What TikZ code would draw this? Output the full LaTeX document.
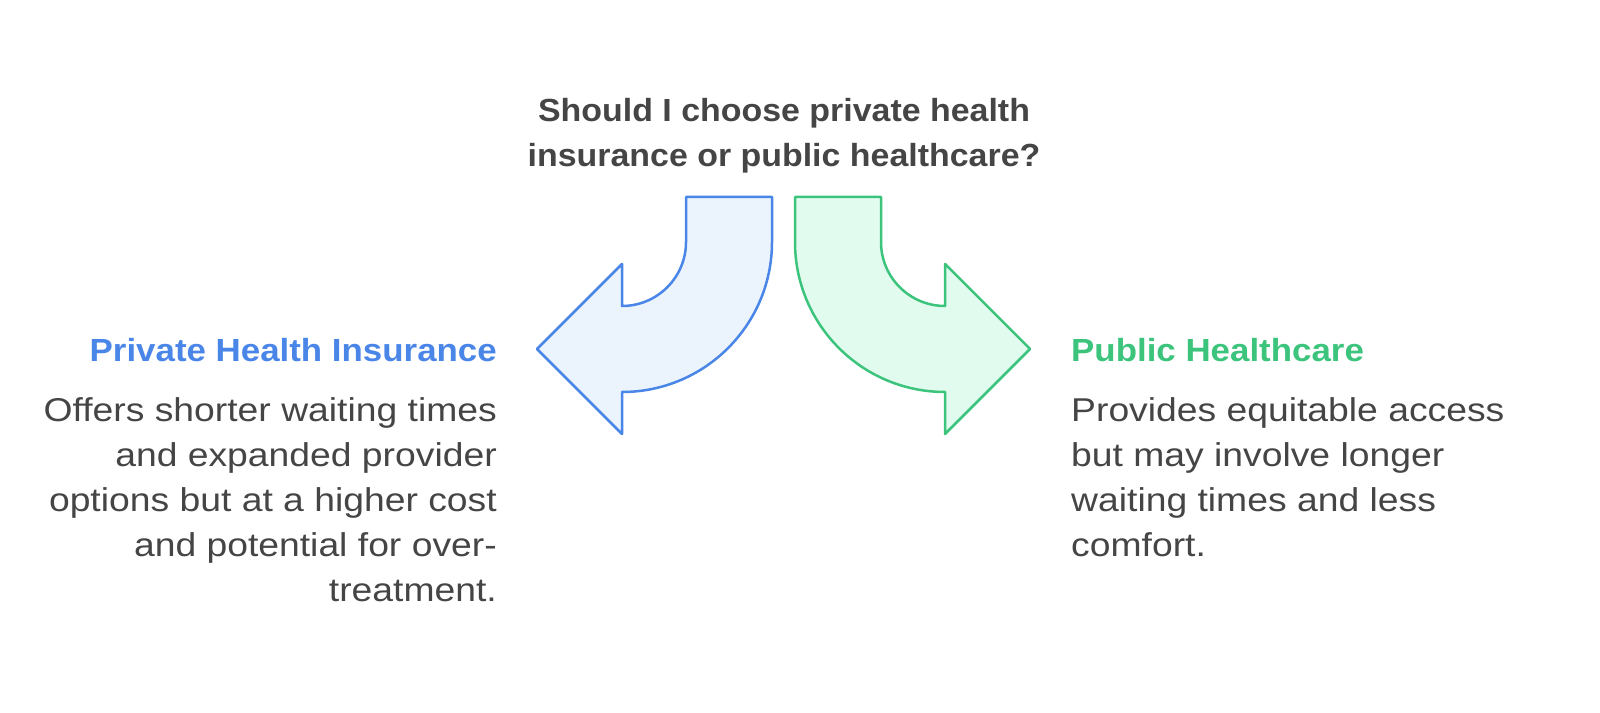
\documentclass[tikz,border=0pt]{standalone}
\usepackage{fontspec}
\setmainfont{Liberation Sans}
\newfontfamily\bodyf[FakeStretch=1.13]{Liberation Sans}
\newfontfamily\headf[FakeStretch=1.09]{Liberation Sans Bold}
\newfontfamily\titf[FakeStretch=1.06]{Liberation Sans Bold}
\definecolor{txt}{HTML}{454545}
\definecolor{bl}{HTML}{4A86E8}
\definecolor{blf}{HTML}{EBF3FD}
\definecolor{gr}{HTML}{3CC47C}
\definecolor{grf}{HTML}{E1FBEF}
\tikzset{
 arr/.style={line width=2.5pt,line join=round},
 body/.style={inner sep=0,text=txt,font=\bodyf\fontsize{33}{45}\selectfont},
 head/.style={inner sep=0,font=\headf\fontsize{32}{36}\selectfont}
}
\begin{document}
\begin{tikzpicture}[x=1pt,y=1pt]
\useasboundingbox (0,0) rectangle (1600,712);
\def\arrowpath{(686,515) -- (772,515) -- (772,470) arc[start angle=0,end angle=-90,radius=150] -- (622,278) -- (537,363) -- (622,448) -- (622,406) arc[start angle=-90,end angle=0,radius=64] -- cycle}
\draw[arr,draw=bl,fill=blf] \arrowpath;
\begin{scope}[xshift=1567pt,xscale=-1]
\draw[arr,draw=gr,fill=grf] \arrowpath;
\end{scope}
\node[inner sep=0,text=txt,align=center,font=\titf\fontsize{32}{45}\selectfont,anchor=base] (q) at (784,545) {Should I choose private health\\insurance or public healthcare?};
\node[head,text=bl,anchor=base east] (lh) at (497,350) {Private Health Insurance};
\node[body,align=right,anchor=base east] (lb) at (497,110) {Offers shorter waiting times\\and expanded provider\\options but at a higher cost\\and potential for over-\\treatment.};
\node[head,text=gr,anchor=base west] (rh) at (1071,350) {Public Healthcare};
\node[body,align=left,anchor=base west] (rb) at (1071,155) {Provides equitable access\\but may involve longer\\waiting times and less\\comfort.};
\end{tikzpicture}
\end{document}
